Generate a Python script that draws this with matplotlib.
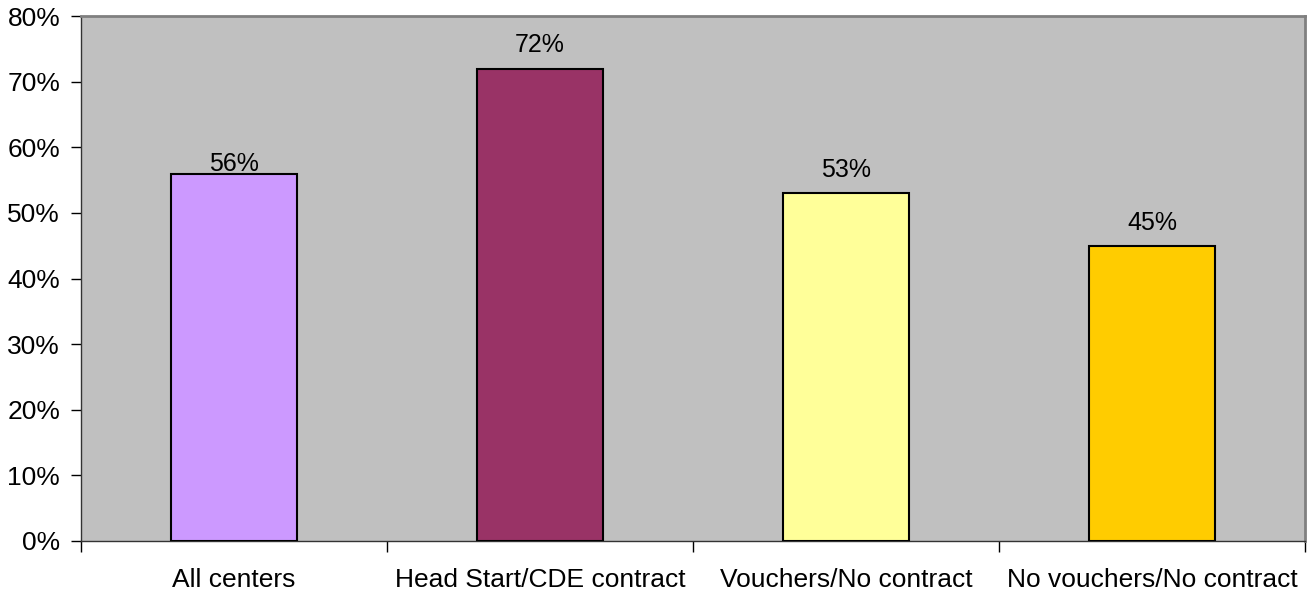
import numpy as np
import matplotlib
matplotlib.use('Agg')
import matplotlib.pyplot as plt
from matplotlib.ticker import FixedLocator, NullFormatter

plt.rcParams['font.family'] = ['Liberation Sans', 'DejaVu Sans']

categories = ['All centers', 'Head Start/CDE contract', 'Vouchers/No contract', 'No vouchers/No contract']
values = [56, 72, 53, 45]
colors = ['#CC99FF', '#993366', '#FFFF99', '#FFCC00']
# distance of the value labels above the bar tops (points)
label_pad = [-2, 8, 8, 8]

fig = plt.figure(figsize=(13.08, 5.94), dpi=100)
ax = fig.add_axes([81 / 1308, 1 - 541 / 594, 1224 / 1308, 525 / 594])
ax.set_facecolor('#C0C0C0')

x = np.arange(len(categories))
ax.bar(x, values, width=0.41, color=colors, edgecolor='black', linewidth=1.5, zorder=3)

for xi, v, p in zip(x, values, label_pad):
    ax.annotate(f'{v}%', (xi, v), xytext=(0, p), textcoords='offset points',
                ha='center', va='bottom', fontsize=18)

ax.set_xlim(-0.5, len(categories) - 0.5)
ax.set_ylim(0, 80)
ax.set_yticks(np.arange(0, 81, 10))
ax.set_yticklabels([f'{t}%' for t in range(0, 81, 10)], fontsize=19)
ax.tick_params(axis='y', direction='out', length=7, width=1, pad=8)

# category labels between boundary ticks
ax.xaxis.set_major_locator(FixedLocator(np.arange(-0.5, len(categories), 1.0)))
ax.xaxis.set_major_formatter(NullFormatter())
ax.xaxis.set_minor_locator(FixedLocator(x))
ax.set_xticklabels(categories, minor=True, fontsize=19)
ax.tick_params(axis='x', which='major', direction='out', length=8, width=1)
ax.tick_params(axis='x', which='minor', length=0, pad=19.5)

for side in ['top', 'right']:
    ax.spines[side].set_color('#808080')
    ax.spines[side].set_linewidth(2)
for side in ['left', 'bottom']:
    ax.spines[side].set_color('#333333')
    ax.spines[side].set_linewidth(1)

fig.savefig('out.png', dpi=100)
